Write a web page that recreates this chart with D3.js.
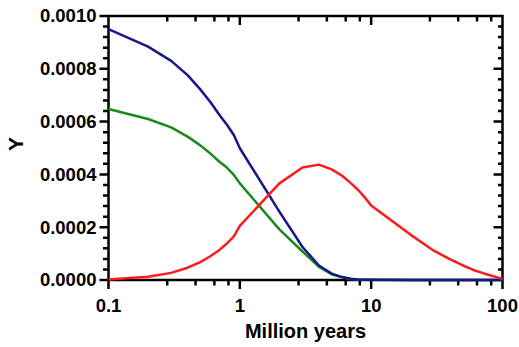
<!DOCTYPE html>
<html>
<head>
<meta charset="utf-8">
<script src="https://cdn.jsdelivr.net/npm/d3@7/dist/d3.min.js"></script>
<style>
  html, body { margin: 0; padding: 0; background: #fff; }
  svg { display: block; }
  text { font-family: "Liberation Sans", Arial, sans-serif; font-weight: bold; fill: #000; }
</style>
</head>
<body>
<svg id="chart" width="519" height="347" viewBox="0 0 519 347"></svg>
<script>
// Time points (million years)
const times = [0.1, 0.2, 0.3, 0.4, 0.5, 0.6, 0.7, 0.8, 0.9, 1,
               2, 3, 4, 5, 6, 7, 8, 9, 10,
               20, 30, 40, 50, 60, 70, 80, 90, 100];

// Three series of Y values at each time point
const blueValues = [0.000950, 0.000884, 0.000830, 0.000776, 0.000722, 0.000672, 0.000625, 0.000587, 0.000549, 0.000499,
                    0.000259, 0.000125, 0.000055, 0.000024, 0.000011, 0.000005, 0.000002, 0.000001, 0.0000005,
                    0, 0, 0, 0, 0, 0, 0, 0, 0];
const greenValues = [0.000648, 0.000610, 0.000578, 0.000543, 0.000510, 0.000478, 0.000448, 0.000425, 0.000398, 0.000366,
                     0.000192, 0.000108, 0.000050, 0.000022, 0.000010, 0.000004, 0.000002, 0.000001, 0.0000005,
                     0, 0, 0, 0, 0, 0, 0, 0, 0];
const redValues = [0.000002, 0.0000125, 0.000027, 0.0000466, 0.000068, 0.000091, 0.000114, 0.000139, 0.000165, 0.000205,
                   0.000366, 0.000426, 0.000437, 0.000419, 0.000395, 0.000367, 0.000340, 0.000311, 0.000282,
                   0.000171, 0.000111, 0.000078, 0.000055, 0.000038, 0.000027, 0.000018, 0.000011, 0.000005];

// Axis ticks
const xMajorTicks = [0.1, 1, 10, 100];
const xMajorLabels = ["0.1", "1", "10", "100"];
const xMinorTicks = [0.28, 0.46, 0.64, 0.82, 2.8, 4.6, 6.4, 8.2, 28, 46, 64, 82];
const yMajorTicks = [0, 0.0002, 0.0004, 0.0006, 0.0008, 0.0010];
const yMajorLabels = ["0.0000", "0.0002", "0.0004", "0.0006", "0.0008", "0.0010"];
const yMinorTicks = [0.00004, 0.00008, 0.00012, 0.00016,
                     0.00024, 0.00028, 0.00032, 0.00036,
                     0.00044, 0.00048, 0.00052, 0.00056,
                     0.00064, 0.00068, 0.00072, 0.00076,
                     0.00084, 0.00088, 0.00092, 0.00096];

const seriesList = [
  { values: greenValues, color: "#1b8a1b" },
  { values: blueValues,  color: "#17178a" },
  { values: redValues,   color: "#ff1a1a" }
];

const plot = { left: 108.5, right: 502.5, top: 16, bottom: 280 };
const MAJOR = 9, MINOR = 5.5;

const svg = d3.select("#chart");

const x = d3.scaleLog().domain([0.1, 100]).range([plot.left, plot.right]);
const y = d3.scaleLinear().domain([0, 0.001]).range([plot.bottom, plot.top]);

// Frame and ticks traced as one continuous outline
const xTicks = xMajorTicks.map(v => ({ p: x(v), len: MAJOR }))
  .concat(xMinorTicks.map(v => ({ p: x(v), len: MINOR })))
  .sort((a, b) => a.p - b.p);
const yTicks = yMajorTicks.map(v => ({ p: y(v), len: MAJOR }))
  .concat(yMinorTicks.map(v => ({ p: y(v), len: MINOR })))
  .sort((a, b) => b.p - a.p);

const fp = d3.path();
fp.moveTo(plot.left, plot.bottom);
// bottom edge, left to right, ticks pointing down
xTicks.forEach(t => { fp.lineTo(t.p, plot.bottom); fp.lineTo(t.p, plot.bottom + t.len); fp.lineTo(t.p, plot.bottom); });
fp.lineTo(plot.right, plot.bottom);
// right edge, bottom to top, ticks pointing inward
yTicks.forEach(t => { fp.lineTo(plot.right, t.p); fp.lineTo(plot.right - (t.len === MAJOR ? MAJOR : MINOR - 1), t.p); fp.lineTo(plot.right, t.p); });
fp.lineTo(plot.right, plot.top);
// top edge, right to left, ticks pointing inward
xTicks.slice().reverse().forEach(t => { fp.lineTo(t.p, plot.top); fp.lineTo(t.p, plot.top + t.len); fp.lineTo(t.p, plot.top); });
fp.lineTo(plot.left, plot.top);
// left edge, top to bottom, ticks pointing outward
yTicks.slice().reverse().forEach(t => { fp.lineTo(plot.left, t.p); fp.lineTo(plot.left - t.len, t.p); fp.lineTo(plot.left, t.p); });
fp.closePath();

svg.append("path")
  .attr("d", fp.toString())
  .attr("fill", "none")
  .attr("stroke", "#000")
  .attr("stroke-width", 2.5)
  .attr("stroke-linejoin", "miter")
  .attr("stroke-linecap", "butt");

// Tick labels
svg.append("g").selectAll("text")
  .data(xMajorTicks)
  .join("text")
  .attr("x", d => x(d))
  .attr("y", plot.bottom + 31.5)
  .attr("text-anchor", "middle")
  .style("font-size", "18.5px")
  .text((d, i) => xMajorLabels[i]);

svg.append("g").selectAll("text")
  .data(yMajorTicks)
  .join("text")
  .attr("x", plot.left - 8 - 4)
  .attr("y", d => y(d))
  .attr("dy", "0.35em")
  .attr("text-anchor", "end")
  .style("font-size", "18.5px")
  .text((d, i) => yMajorLabels[i]);

// Series lines
const line = d3.line()
  .x((d, i) => x(times[i]))
  .y(d => y(d));

svg.append("g").selectAll("path")
  .data(seriesList)
  .join("path")
  .attr("d", s => line(s.values))
  .attr("fill", "none")
  .attr("stroke", s => s.color)
  .attr("stroke-width", 2.5)
  .attr("stroke-linejoin", "round");

// Axis titles
svg.append("text")
  .attr("x", (plot.left + plot.right) / 2)
  .attr("y", 338)
  .attr("text-anchor", "middle")
  .style("font-size", "20px")
  .text("Million years");

svg.append("text")
  .attr("transform", `translate(23,${(plot.top + plot.bottom) / 2 - 4}) rotate(-90)`)
  .attr("text-anchor", "middle")
  .style("font-size", "21px")
  .text("Y");
</script>
</body>
</html>
